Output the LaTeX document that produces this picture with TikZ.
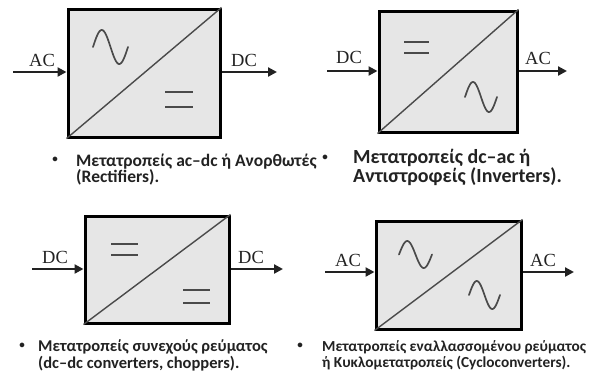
\documentclass[tikz,border=0pt]{standalone}
\usepackage{fontspec}
\setmainfont{Liberation Serif}
\newfontfamily\capfont{Carlito}
\usetikzlibrary{arrows.meta}
\definecolor{boxfill}{HTML}{E6E6E6}
\definecolor{ink}{HTML}{222222}
\definecolor{sym}{HTML}{4A4A4A}
\tikzset{
  convbox/.style={draw=black, line width=3pt, fill=boxfill, inner sep=0pt},
  flow/.style={line width=2.2pt, draw=ink, -{Triangle[length=9pt,width=9pt]}},
  diag/.style={line width=1.4pt, draw=sym},
  wave/.style={line width=1.7pt, draw=sym, line cap=round},
  eqbar/.style={line width=2pt, draw=sym},
  iolabel/.style={font=\fontsize{18.5}{18.5}\selectfont, text=ink, inner sep=0pt, anchor=base},
  capline/.style={font=\capfont\bfseries\fontsize{16.5}{18}\selectfont, text=ink, inner sep=0pt, anchor=base west},
  capone/.style={capline, font=\capfont\bfseries\fontsize{17.5}{18}\selectfont},
  capfour/.style={capline, font=\capfont\bfseries\fontsize{15.3}{17}\selectfont},
  capbig/.style={font=\capfont\bfseries\fontsize{20}{20}\selectfont, text=ink, inner sep=0pt, anchor=base west},
  bulletmark/.style={font=\capfont\bfseries\fontsize{11}{11}\selectfont, text=ink, inner sep=0pt}
}
\newcommand{\sinewave}[4]{% x0, x1, yc, amp
  \draw[wave] plot[domain=0:360, samples=50, smooth] ({#1+(#2-#1)*\x/360}, {#3-#4*sin(\x)});}
\begin{document}
\begin{tikzpicture}[x=1pt,y=-1pt]
\useasboundingbox (0,0) rectangle (597,376);

% ---------- Box 1: AC -> DC ----------
\node[convbox, minimum width=152pt, minimum height=128pt] (b1) at (144,73) {};
\draw[diag] (b1.south west) -- (b1.north east);
\sinewave{93}{128}{47}{17}
\draw[eqbar] (165,92) -- (193,92);
\draw[eqbar] (165,107) -- (193,107);
\coordinate (i1) at (13,72);
\coordinate (o1) at (277,72);
\draw[flow] (i1) -- (i1 -| b1.west);
\draw[flow] (o1 -| b1.east) -- (o1);
\node[iolabel] (l1a) at (42,66) {AC};
\node[iolabel] (l1b) at (244,66) {DC};

% ---------- Box 2: DC -> AC ----------
\node[convbox, minimum width=138pt, minimum height=121pt] (b2) at (448,71.5) {};
\draw[diag] (b2.south west) -- (b2.north east);
\draw[eqbar] (404,42) -- (429,42);
\draw[eqbar] (404,53) -- (429,53);
\sinewave{465}{497}{97}{15}
\coordinate (i2) at (327,71);
\coordinate (o2) at (567,71);
\draw[flow] (i2) -- (i2 -| b2.west);
\draw[flow] (o2 -| b2.east) -- (o2);
\node[iolabel] (l2a) at (349,63) {DC};
\node[iolabel] (l2b) at (538,64) {AC};

% ---------- Box 3: DC -> DC ----------
\node[convbox, minimum width=144pt, minimum height=107pt] (b3) at (157,269.5) {};
\draw[diag] (b3.south west) -- (b3.north east);
\draw[eqbar] (111,244) -- (138,244);
\draw[eqbar] (111,255) -- (138,255);
\draw[eqbar] (183,290) -- (210,290);
\draw[eqbar] (183,303) -- (210,303);
\coordinate (i3) at (32,269);
\coordinate (o3) at (283,269);
\draw[flow] (i3) -- (i3 -| b3.west);
\draw[flow] (o3 -| b3.east) -- (o3);
\node[iolabel] (l3a) at (55,263) {DC};
\node[iolabel] (l3b) at (251,263) {DC};

% ---------- Box 4: AC -> AC ----------
\node[convbox, minimum width=145pt, minimum height=108pt] (b4) at (448.5,275) {};
\draw[diag] (b4.south west) -- (b4.north east);
\sinewave{399}{432}{254.5}{13.5}
\sinewave{469}{500}{295}{14}
\coordinate (i4) at (325,272);
\coordinate (o4) at (574,272);
\draw[flow] (i4) -- (i4 -| b4.west);
\draw[flow] (o4 -| b4.east) -- (o4);
\node[iolabel] (l4a) at (348,266) {AC};
\node[iolabel] (l4b) at (543,266) {AC};

% ---------- Captions ----------
\node[bulletmark] (d1) at (55,160) {•};
\node[capone] (c1a) at (76,166) {Μετατροπείς ac–dc ή Ανορθωτές};
\node[capone] (c1b) at (76,182) {(Rectifiers).};

\node[bulletmark] (d2) at (325,158) {•};
\node[capbig] (c2a) at (353,163) {Μετατροπείς dc–ac ή};
\node[capbig] (c2b) at (353,182) {Αντιστροφείς (Inverters).};

\node[bulletmark] (d3) at (22,346) {•};
\node[capline] (c3a) at (38,351) {Μετατροπείς συνεχούς ρεύματος};
\node[capline] (c3b) at (38,368) {(dc–dc converters, choppers).};

\node[bulletmark] (d4) at (300,346) {•};
\node[capfour] (c4a) at (322,351) {Μετατροπείς εναλλασσομένου ρεύματος};
\node[capfour] (c4b) at (322,367) {ή Κυκλομετατροπείς (Cycloconverters).};
\end{tikzpicture}
\end{document}
